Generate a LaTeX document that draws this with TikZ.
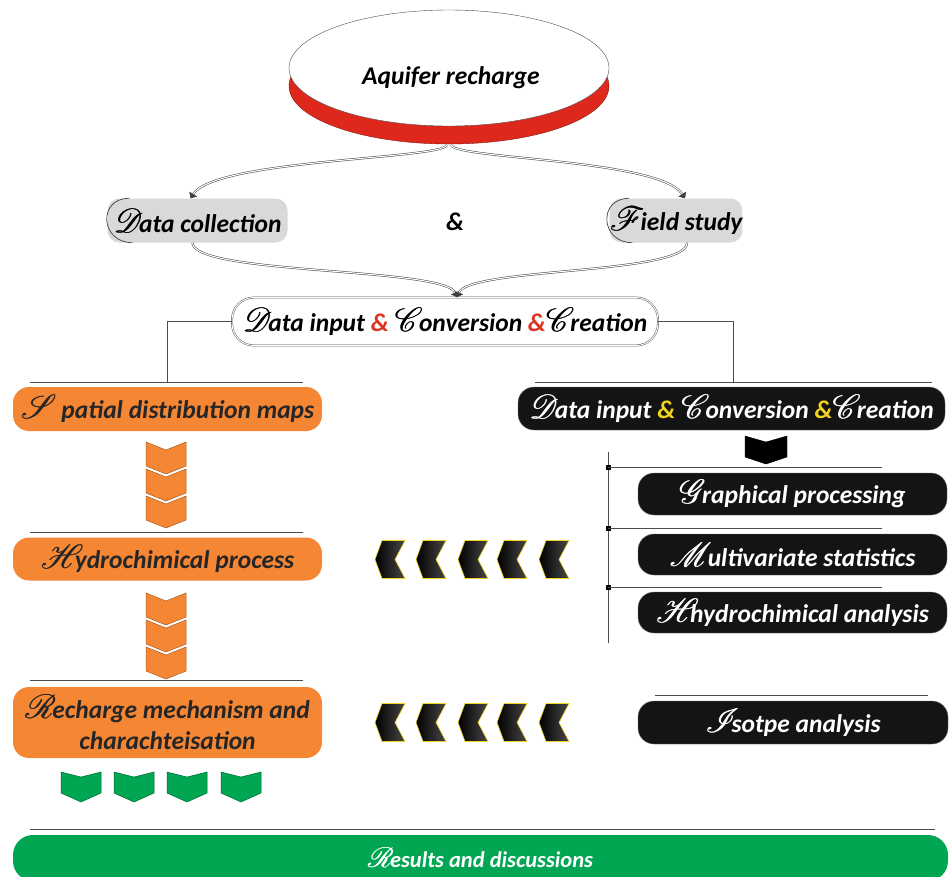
\documentclass[tikz,border=0pt]{standalone}
\usepackage{fontspec}
\setmainfont{Carlito}
\usepackage{mathrsfs}
\usetikzlibrary{shapes.geometric,arrows.meta}

\definecolor{orng}{RGB}{245,134,52}
\definecolor{grn}{RGB}{0,166,81}
\definecolor{gry}{RGB}{217,217,217}
\definecolor{ampred}{RGB}{222,52,30}
\definecolor{aqred}{RGB}{222,40,28}
\definecolor{yel}{RGB}{240,212,30}

% fat script capital
\newcommand{\initial}[1]{\scalebox{1.35}{\rlap{$\mathscr{#1}$}\kern0.35pt$\mathscr{#1}$}\kern-4pt}

\tikzset{
  txt/.style={font=\fontsize{25.5}{31}\selectfont\bfseries\itshape, inner sep=0pt},
  greybox/.style={txt, fill=gry, rounded corners=12pt, minimum height=44pt},
  orbox/.style={txt, fill=orng, rounded corners=16pt, minimum width=309pt, text=black!85},
  blkbox/.style={txt, fill=black!92, draw=black!55, rounded corners=16pt, text=white},
  sep/.style={draw=black!70, line width=0.8pt},
  dbl/.style={draw=black!75, double=white, double distance=1.1pt, line width=0.5pt,
    -{Triangle[width=9pt,length=5pt]}},
  ochev/.style={fill=orng, draw=orng!70!black, line width=0.5pt},
  gchev/.style={fill=grn, draw=grn!60!black, line width=0.5pt},
  kchev/.style={left color=black, right color=black!72, draw=yel, line width=0.6pt},
}

\begin{document}
\begin{tikzpicture}[x=1pt,y=-1pt]
  \useasboundingbox (0,0) rectangle (951,876);

  % aquifer disc
  \fill[aqred, draw=aqred!60!black] (449,86) ellipse (160 and 58);
  \node[ellipse, draw=black!70, fill=white, minimum width=320pt, minimum height=116pt] (aq) at (449,68) {};
  \node[txt] (aqt) at (451,78) {Aquifer recharge};

  \node[greybox, minimum width=180pt] (dc) at (197.5,220.5) {\initial{D}ata collection};
  \node[greybox, minimum width=132pt] (fs) at (676,220.5) {\initial{F}ield study};
  \node[txt] (amp) at (455,222) {\&};
  \draw[black!75, line width=0.7pt] ([xshift=22pt]dc.north west) .. controls +(-32,0) and +(-32,0) .. ([xshift=25pt]dc.south west);
  \draw[black!75, line width=0.7pt] ([xshift=20pt]fs.north west) .. controls +(-32,0) and +(-32,0) .. ([xshift=23pt]fs.south west);

  \draw[dbl] ([xshift=-2pt,yshift=-19pt]aq.south) .. controls +(-7,14) and +(25,-39) .. ([xshift=-7pt]dc.north);
  \draw[dbl] ([xshift=2pt,yshift=-19pt]aq.south) .. controls +(7,14) and +(-25,-39) .. ([xshift=9pt]fs.north);

  \node[txt, draw=black!75, double=white, double distance=1pt, fill=white, rounded corners=22pt,
        minimum width=426pt, minimum height=48pt] (dic) at (445,321.5)
        {\initial{D}ata input {\color{ampred}\&} \initial{C}onversion {\color{ampred}\&}\initial{C}reation};
  \draw[dbl] ([xshift=-5pt]dc.south) .. controls +(0,32) and +(-12,-30) .. ([xshift=12pt]dic.north);
  \draw[dbl] ([xshift=11pt]fs.south) .. controls +(0,32) and +(12,-30) .. ([xshift=12pt]dic.north);

  % branches
  \coordinate (lj) at (167,382);
  \coordinate (rj) at (733,382);
  \draw[sep] (dic.west) -| (lj);
  \draw[sep] (dic.east) -| (rj);
  \draw[sep] (30,382) -- (303,382);
  \draw[sep] (535,382) -- (932,382);
  \draw[sep] (30,532) -- (303,532);
  \draw[sep] (30,680) -- (303,680);
  \draw[sep] (655,695) -- (928,695);
  \draw[sep] (30,829) -- (935,829);

  % left column
  \node[orbox, minimum height=44pt] (sdm) at (167.5,409) {\initial{S}\,\,patial distribution maps};
  \node[orbox, minimum height=43pt] (hp) at (167.5,559) {\initial{H}\kern-5pt ydrochimical process};
  \node[orbox, minimum height=71pt, align=center] (rm) at (167.5,722.5) {\initial{R}echarge mechanism and\\charachteisation};
  \foreach \y in {442,469,496,593,620,647}
    \draw[ochev] (146,\y) -- ++(20,8) -- ++(20,-8) -- ++(0,24) -- ++(-20,8) -- ++(-20,-8) -- cycle;
  \foreach \x in {61,114,167,221}
    \draw[gchev] (\x,772) -- ++(20,5) -- ++(20,-5) -- ++(0,21) -- ++(-20,9) -- ++(-20,-9) -- cycle;

  % right column
  \node[blkbox, minimum width=427pt, minimum height=43pt] (dic2) at (731.5,408.5)
        {\initial{D}ata input {\color{yel}\&} \initial{C}onversion {\color{yel}\&}\initial{C}reation};
  \draw[fill=black] (745,436) -- ++(21,6) -- ++(21,-6) -- ++(0,21) -- ++(-21,7) -- ++(-21,-7) -- cycle;
  \node[blkbox, minimum width=309pt, minimum height=42pt] (gp) at (792.5,494) {\initial{G}raphical processing};
  \node[blkbox, minimum width=309pt, minimum height=41pt] (ms) at (792.5,554.5) {\initial{M}ultivariate statistics};
  \node[blkbox, minimum width=309pt, minimum height=41pt] (ha) at (792.5,612.5) {\initial{H}\kern-5pt hydrochimical analysis};
  \node[blkbox, minimum width=310pt, minimum height=43pt] (ia) at (793,722.5) {\initial{I}\kern-4pt sotpe analysis};
  \draw[sep] (608,452) -- (608,643);
  \foreach \y in {467,528,587} {
    \fill (608,\y) +(-2.5,-2.5) rectangle +(2.5,2.5);
    \draw[sep] (608,\y) -- (882,\y);
  }

  % arrows between columns
  \foreach \y in {559.5,722.5}
    \foreach \x in {375,416,458,497,539}
      \draw[kchev] (\x,\y) -- ++(7,-19) -- ++(23,0) -- ++(-10,19) -- ++(10,19) -- ++(-23,0) -- cycle;

  \node[txt, fill=grn, rounded corners=20pt, minimum width=935pt, minimum height=46pt, text=white,
        font=\fontsize{22.5}{25}\selectfont\bfseries\itshape] (rd) at (480.5,858) {\initial{R}esults and discussions};
\end{tikzpicture}
\end{document}
